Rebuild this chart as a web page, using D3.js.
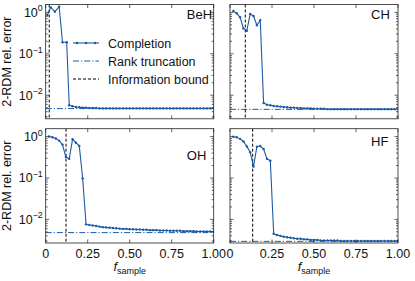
<!DOCTYPE html>
<html>
<head>
<meta charset="utf-8">
<script src="https://cdn.jsdelivr.net/npm/d3@7"></script>
<style>
  body { margin: 0; background: #fff; }
  svg { display: block; font-family: "Liberation Sans", Arial, sans-serif; }
  .frame { fill: none; stroke: #222; stroke-width: 0.8; }
  .tick { stroke: #222; stroke-width: 0.7; }
</style>
</head>
<body>
<div id="chart"></div>
<script>
// ---- data ----
const molecules = ["BeH", "CH", "OH", "HF"];

const fGrid = [0.02, 0.04, 0.06, 0.08, 0.10, 0.12, 0.14, 0.16, 0.18, 0.20,
  0.22, 0.24, 0.26, 0.28, 0.30, 0.32, 0.34, 0.36, 0.38, 0.40,
  0.42, 0.44, 0.46, 0.48, 0.50, 0.52, 0.54, 0.56, 0.58, 0.60,
  0.62, 0.64, 0.66, 0.68, 0.70, 0.72, 0.74, 0.76, 0.78, 0.80,
  0.82, 0.84, 0.86, 0.88, 0.90, 0.92, 0.94, 0.96, 0.98, 1.00];

// BeH is sampled a bit differently at the start
const fBeHHead = [0.01, 0.03, 0.055, 0.08, 0.10, 0.125];

const errBeH = [0.86, 1.32, 1.04, 1.37, 0.19, 0.19,
  0.0057, 0.0054, 0.0052, 0.0051, 0.0050, 0.0050, 0.0049, 0.0049, 0.0049, 0.0048,
  0.0048, 0.0048, 0.0048, 0.0048, 0.0048, 0.0048, 0.0048, 0.0048, 0.0048, 0.0048,
  0.0048, 0.0048, 0.0048, 0.0048, 0.0048, 0.0048, 0.0048, 0.0048, 0.0048, 0.0048,
  0.0048, 0.0048, 0.0048, 0.0048, 0.0048, 0.0048, 0.0048, 0.0048, 0.0048, 0.0048,
  0.0048, 0.0048, 0.0048, 0.0048];

const errCH = [1.08, 0.95, 0.76, 0.41, 0.36, 0.91, 0.82, 0.49, 0.65, 0.0065,
  0.0059, 0.0057, 0.0055, 0.0054, 0.0053, 0.0052, 0.0051, 0.0050, 0.0050, 0.0049,
  0.0049, 0.0048, 0.0048, 0.0048, 0.0047, 0.0047, 0.0047, 0.0047, 0.0046, 0.0046,
  0.0046, 0.0046, 0.0046, 0.0046, 0.0046, 0.0046, 0.0046, 0.0046, 0.0046, 0.0046,
  0.0046, 0.0046, 0.0046, 0.0046, 0.0046, 0.0046, 0.0046, 0.0046, 0.0046, 0.0046];

const errOH = [1.0, 0.96, 0.90, 0.80, 0.64, 0.32, 0.29, 0.86, 0.71, 0.59,
  0.098, 0.0076, 0.0073, 0.0071, 0.0069, 0.0067, 0.0065, 0.0064, 0.0063, 0.0062,
  0.0061, 0.0060, 0.0059, 0.0059, 0.0058, 0.0058, 0.0057, 0.0057, 0.0056, 0.0056,
  0.0055, 0.0055, 0.0055, 0.0054, 0.0054, 0.0054, 0.0053, 0.0053, 0.0053, 0.0053,
  0.0052, 0.0052, 0.0052, 0.0052, 0.0051, 0.0051, 0.0051, 0.0051, 0.0051, 0.0050];

const errHF = [0.99, 0.96, 0.88, 0.76, 0.58, 0.42, 0.19, 0.57, 0.59, 0.50,
  0.29, 0.26, 0.0045, 0.0042, 0.0040, 0.0038, 0.0037, 0.0036, 0.0035, 0.0034,
  0.0034, 0.0033, 0.0033, 0.0032, 0.0032, 0.0032, 0.0031, 0.0031, 0.0031, 0.0031,
  0.0031, 0.0031, 0.0030, 0.0030, 0.0030, 0.0030, 0.0030, 0.0030, 0.0030, 0.0030,
  0.0030, 0.0030, 0.0030, 0.0030, 0.0030, 0.0030, 0.0030, 0.0030, 0.0030, 0.0030];

const rankTrunc = [0.00475, 0.00455, 0.0048, 0.00295];
const infoBound = [0.021, 0.091, 0.121, 0.135];

const xTicks = [0, 0.25, 0.5, 0.75, 1];
const xTickLabels = ["0", "0.25", "0.50", "0.75", "1.00"];
const yTicks = [1, 0.1, 0.01];
const yTickExp = ["0", "\u22121", "\u22122"];
const legendLabels = ["Completion", "Rank truncation", "Information bound"];

// ---- layout ----
const W = 415, H = 281;
const blue = "#1c5aa5";
const colX = [45.7, 230];
const rowY = [4.5, 128.7];
const pw = 168, ph = 114.3;
const fs = 12.5;
// label baselines per panel (OH label sits lower)
const labelY = [18.5, 18.5, 160, 145.5];

const series = [
  fBeHHead.concat(fGrid.slice(6)).map((f, i) => [f, errBeH[i]]),
  fGrid.map((f, i) => [f, errCH[i]]),
  fGrid.map((f, i) => [f, errOH[i]]),
  fGrid.map((f, i) => [f, errHF[i]])
];

const svg = d3.select("#chart").append("svg")
  .attr("width", W).attr("height", H);

molecules.forEach((name, k) => {
  const col = k % 2, row = Math.floor(k / 2);
  const x0 = colX[col], y0 = rowY[row];
  const x = d3.scaleLinear().domain([0, 1]).range([x0, x0 + pw]);
  const y = d3.scaleLog().domain([Math.pow(10, -2.57), Math.pow(10, 0.19)]).range([y0 + ph, y0]);

  const g = svg.append("g");
  const clipId = "clip" + k;
  g.append("clipPath").attr("id", clipId)
    .append("rect").attr("x", x0).attr("y", y0).attr("width", pw).attr("height", ph);
  const plot = g.append("g").attr("clip-path", `url(#${clipId})`);

  // rank truncation
  plot.append("line")
    .attr("x1", x0).attr("x2", x0 + pw)
    .attr("y1", y(rankTrunc[k])).attr("y2", y(rankTrunc[k]))
    .attr("stroke", blue).attr("stroke-width", 1)
    .attr("stroke-dasharray", "6,2,1.2,2");

  // information bound
  plot.append("line")
    .attr("x1", x(infoBound[k])).attr("x2", x(infoBound[k]))
    .attr("y1", y0).attr("y2", y0 + ph)
    .attr("stroke", "#000").attr("stroke-width", 1)
    .attr("stroke-dasharray", "3,2");

  // completion
  const line = d3.line().x(d => x(d[0])).y(d => y(d[1]));
  plot.append("path").datum(series[k])
    .attr("d", line).attr("fill", "none")
    .attr("stroke", blue).attr("stroke-width", 1.1);
  plot.selectAll(".pt").data(series[k]).enter().append("circle")
    .attr("class", "pt")
    .attr("cx", d => x(d[0])).attr("cy", d => y(d[1]))
    .attr("r", 1.2).attr("fill", blue);

  // ticks, inward on all four sides
  xTicks.forEach(t => {
    g.append("line").attr("class", "tick")
      .attr("x1", x(t)).attr("x2", x(t)).attr("y1", y0 + ph).attr("y2", y0 + ph - 3.5);
    g.append("line").attr("class", "tick")
      .attr("x1", x(t)).attr("x2", x(t)).attr("y1", y0).attr("y2", y0 + 3.5);
  });
  const yMinor = [];
  [0.001, 0.01, 0.1, 1].forEach(dec => {
    for (let m = 2; m <= 9; m++) yMinor.push(dec * m);
  });
  const [lo, hi] = y.domain();
  yMinor.filter(v => v > lo && v < hi).forEach(v => {
    g.append("line").attr("class", "tick")
      .attr("x1", x0).attr("x2", x0 + 2).attr("y1", y(v)).attr("y2", y(v));
    g.append("line").attr("class", "tick")
      .attr("x1", x0 + pw).attr("x2", x0 + pw - 2).attr("y1", y(v)).attr("y2", y(v));
  });
  yTicks.forEach(v => {
    g.append("line").attr("class", "tick")
      .attr("x1", x0).attr("x2", x0 + 3.5).attr("y1", y(v)).attr("y2", y(v));
    g.append("line").attr("class", "tick")
      .attr("x1", x0 + pw).attr("x2", x0 + pw - 3.5).attr("y1", y(v)).attr("y2", y(v));
  });

  g.append("rect").attr("class", "frame")
    .attr("x", x0).attr("y", y0).attr("width", pw).attr("height", ph);

  // y tick labels only on left column
  if (col === 0) {
    yTicks.forEach((v, i) => {
      const t = g.append("text")
        .attr("x", x0 - 3).attr("y", y(v) + 4.5)
        .attr("text-anchor", "end").attr("font-size", fs).attr("fill", "#111");
      t.append("tspan").text("10");
      t.append("tspan").attr("dy", -5.5).attr("font-size", 8.8).text(yTickExp[i]);
    });
    g.append("text")
      .attr("transform", `translate(${x0 - 35},${y0 + ph / 2}) rotate(-90)`)
      .attr("text-anchor", "middle").attr("font-size", fs).attr("fill", "#111")
      .text("2-RDM rel. error");
  }

  // x tick labels only on bottom row
  if (row === 1) {
    xTicks.forEach((t, i) => {
      g.append("text")
        .attr("x", x(t)).attr("y", y0 + ph + 14.5)
        .attr("text-anchor", "middle").attr("font-size", fs).attr("fill", "#111")
        .text(xTickLabels[i]);
    });
    const xl = g.append("text")
      .attr("x", x0 + pw / 2).attr("y", y0 + ph + 28)
      .attr("text-anchor", "middle").attr("font-size", 13).attr("fill", "#111");
    xl.append("tspan").attr("font-style", "italic").text("f");
    xl.append("tspan").attr("dy", 3).attr("font-size", 9).text("sample");
  }

  // molecule label
  g.append("text")
    .attr("x", x(0.84)).attr("y", labelY[k])
    .attr("font-size", 13).attr("fill", "#111")
    .text(name);
});

// legend inside BeH panel
const lg = svg.append("g");
const lx0 = 73, lx1 = 99, ltx = 108;
const legY = [43, 61, 79];
lg.append("line").attr("x1", lx0).attr("x2", lx1).attr("y1", legY[0]).attr("y2", legY[0])
  .attr("stroke", blue).attr("stroke-width", 1.1);
[lx0 + 4, (lx0 + lx1) / 2, lx1 - 4].forEach(px => {
  lg.append("circle").attr("cx", px).attr("cy", legY[0]).attr("r", 1.2).attr("fill", blue);
});
lg.append("line").attr("x1", lx0).attr("x2", lx1).attr("y1", legY[1]).attr("y2", legY[1])
  .attr("stroke", blue).attr("stroke-width", 1).attr("stroke-dasharray", "6,2,1.2,2");
lg.append("line").attr("x1", lx0).attr("x2", lx1).attr("y1", legY[2]).attr("y2", legY[2])
  .attr("stroke", "#000").attr("stroke-width", 1).attr("stroke-dasharray", "3,2");
legendLabels.forEach((txt, i) => {
  lg.append("text").attr("x", ltx).attr("y", legY[i] + 4.5)
    .attr("font-size", fs).attr("fill", "#111").text(txt);
});
</script>
</body>
</html>
